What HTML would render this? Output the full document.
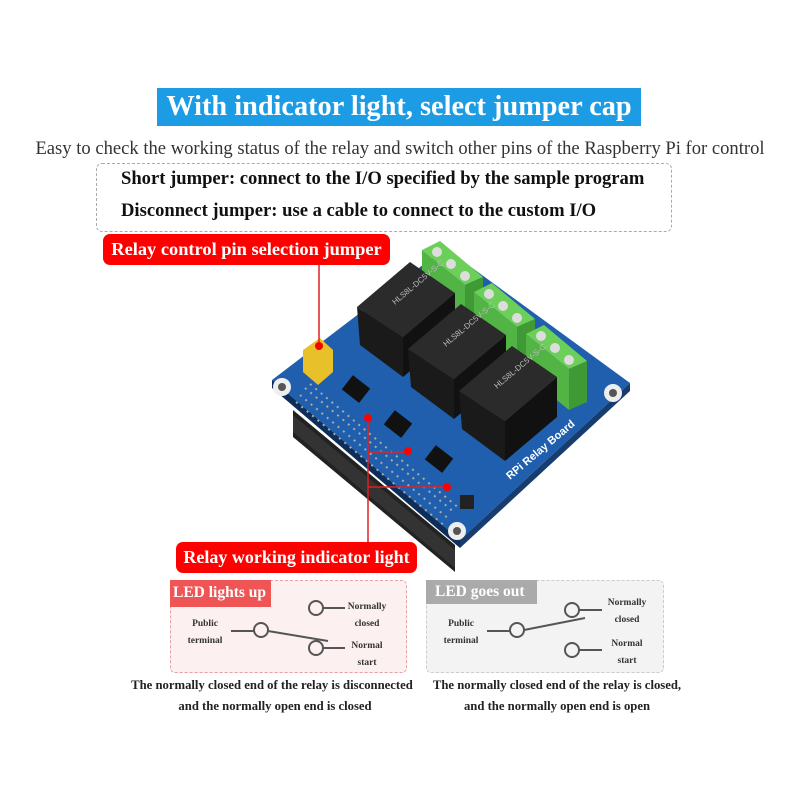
<!DOCTYPE html>
<html><head><meta charset="utf-8"><style>
body{margin:0;width:800px;height:800px;background:#fff;position:relative;overflow:hidden;font-family:"Liberation Serif",serif}
.a{position:absolute;white-space:nowrap}
</style></head><body>
<div class="a" style="left:157px;top:88px;width:484px;height:38px;background:#1b9ce5;color:#fff;font-weight:bold;font-size:28.3px;line-height:38px;text-align:center">With indicator light, select jumper cap</div>
<div class="a" style="left:0;width:800px;top:138px;text-align:center;font-size:18.6px;color:#333">Easy to check the working status of the relay and switch other pins of the Raspberry Pi for control</div>
<div class="a" style="left:96px;top:163px;width:574px;height:67px;border:1.5px dashed #aaa;border-radius:6px"></div>
<div class="a" style="left:121px;top:168px;font-size:18.6px;font-weight:bold;color:#111">Short jumper: connect to the I/O specified by the sample program</div>
<div class="a" style="left:121px;top:200px;font-size:18.6px;font-weight:bold;color:#111">Disconnect jumper: use a cable to connect to the custom I/O</div>
<div class="a" style="left:103px;top:234px;width:287px;height:31px;background:#f00;border-radius:7px;color:#fff;font-weight:bold;font-size:18.4px;line-height:31px;text-align:center">Relay control pin selection jumper</div>

<svg class="a" style="left:0;top:0" width="800" height="800">
 <polygon points="293,410 455,545 455,572 293,437" fill="#222"/>
 <polygon points="293,415 455,550 455,568 293,432" fill="#333"/>
 <polygon points="272,380 445,248 630,383 460,540" fill="#1f5fae"/>
 <polygon points="272,380 460,540 460,548 272,388" fill="#0d2d5a"/>
 <polygon points="460,540 630,383 630,391 460,548" fill="#173d70"/>
 <circle cx="282" cy="387" r="9" fill="#eee"/><circle cx="282" cy="387" r="4" fill="#555"/>
 <circle cx="613" cy="393" r="9" fill="#eee"/><circle cx="613" cy="393" r="4" fill="#555"/>
 <circle cx="457" cy="531" r="9" fill="#eee"/><circle cx="457" cy="531" r="4" fill="#555"/>
 <g stroke="#aaa" stroke-width="2">
  <path d="M300,395 l150,125 M305,388 l150,125 M296,402 l150,125 M310,384 l150,125" stroke-dasharray="2 5"/>
 </g>
 <rect x="345" y="380" width="22" height="18" fill="#111" transform="rotate(38 356 389)"/>
 <rect x="387" y="415" width="22" height="18" fill="#111" transform="rotate(38 398 424)"/>
 <rect x="428" y="450" width="22" height="18" fill="#111" transform="rotate(38 439 459)"/>
 <rect x="460" y="495" width="14" height="14" fill="#222"/>
 <g id="t">
  <polygon points="422,250 440,241 483,277 465,285" fill="#6ccf5a"/>
  <polygon points="465,285 483,277 483,318 465,326" fill="#3f9a35"/>
  <polygon points="422,250 465,285 465,326 422,291" fill="#52b445"/>
  <circle cx="437" cy="252" r="5" fill="#ddd"/><circle cx="451" cy="264" r="5" fill="#ddd"/><circle cx="465" cy="276" r="5" fill="#ddd"/>
 </g>
 <use href="#t" transform="translate(52,42)"/>
 <use href="#t" transform="translate(104,84)"/>
 <g id="r">
  <polygon points="357,307 403,337 403,377 360,345" fill="#1a1a1a"/>
  <polygon points="403,337 455,293 455,333 403,377" fill="#111"/>
  <polygon points="357,307 410,262 455,293 403,337" fill="#2b2b2b"/>
  <text x="395" y="305" fill="#bbb" font-size="8" font-family="Liberation Sans" transform="rotate(-40 395 305)">HLS8L-DC5V-S-C</text>
 </g>
 <use href="#r" transform="translate(51,42)"/>
 <use href="#r" transform="translate(102,84)"/>
 <polygon points="303,350 320,338 333,350 333,372 318,385 303,372" fill="#e8c02a"/>
 <text x="510" y="480" fill="#fff" font-size="11" font-weight="bold" font-family="Liberation Sans" transform="rotate(-40 510 480)">RPi Relay Board</text>
 <g stroke="#e02020" stroke-width="1.5" fill="none">
  <path d="M319,265 V345"/>
  <path d="M368,418 V542 M368,452 H407 M368,487 H446"/>
 </g>
 <circle cx="319" cy="346" r="4" fill="#f00"/>
 <circle cx="368" cy="418" r="4" fill="#f00"/><circle cx="408" cy="451" r="4" fill="#f00"/><circle cx="447" cy="487" r="4" fill="#f00"/>
</svg>

<div class="a" style="left:176px;top:542px;width:241px;height:31px;background:#f00;border-radius:7px;color:#fff;font-weight:bold;font-size:18px;line-height:31px;text-align:center">Relay working indicator light</div>

<div class="a" style="left:170px;top:580px;width:235px;height:91px;border:1px dashed #e8a0a0;background:#fdf0f0;border-radius:5px"></div>
<div class="a" style="left:170px;top:580px;width:101px;height:27px;background:#f05555;color:#fff;font-weight:bold;font-size:15.5px;line-height:25px;padding-left:3px;box-sizing:border-box">LED lights up</div>
<div class="a" style="left:426px;top:580px;width:236px;height:91px;border:1px dashed #ccc;background:#f3f3f3;border-radius:5px"></div>
<div class="a" style="left:426px;top:580px;width:111px;height:24px;background:#aaa;color:#fff;font-weight:bold;font-size:15.5px;line-height:24px;padding-left:9px;box-sizing:border-box">LED goes out</div>

<svg class="a" style="left:0;top:0" width="800" height="800">
 <g stroke="#555" stroke-width="2" fill="none">
  <path d="M231,631 H254"/><circle cx="261" cy="630" r="7"/><path d="M268,631 L328,641"/>
  <circle cx="316" cy="608" r="7"/><path d="M323,608 H345"/>
  <circle cx="316" cy="648" r="7"/><path d="M323,648 H345"/>
  <path d="M487,631 H510"/><circle cx="517" cy="630" r="7"/><path d="M524,630 L585,618"/>
  <circle cx="572" cy="610" r="7"/><path d="M579,610 H602"/>
  <circle cx="572" cy="650" r="7"/><path d="M579,650 H602"/>
 </g>
 <g font-family="Liberation Serif" font-weight="bold" font-size="9.5" fill="#333" text-anchor="middle">
  <text x="205" y="626">Public</text><text x="205" y="643">terminal</text>
  <text x="367" y="609">Normally</text><text x="367" y="626">closed</text>
  <text x="367" y="648">Normal</text><text x="367" y="665">start</text>
  <text x="461" y="626">Public</text><text x="461" y="643">terminal</text>
  <text x="627" y="605">Normally</text><text x="627" y="622">closed</text>
  <text x="627" y="646">Normal</text><text x="627" y="663">start</text>
 </g>
 <g font-family="Liberation Serif" font-weight="bold" font-size="12.7" fill="#222" text-anchor="middle">
  <text x="272" y="689">The normally closed end of the relay is disconnected</text>
  <text x="275" y="710">and the normally open end is closed</text>
  <text x="557" y="689">The normally closed end of the relay is closed,</text>
  <text x="557" y="710">and the normally open end is open</text>
 </g>
</svg>
</body></html>
